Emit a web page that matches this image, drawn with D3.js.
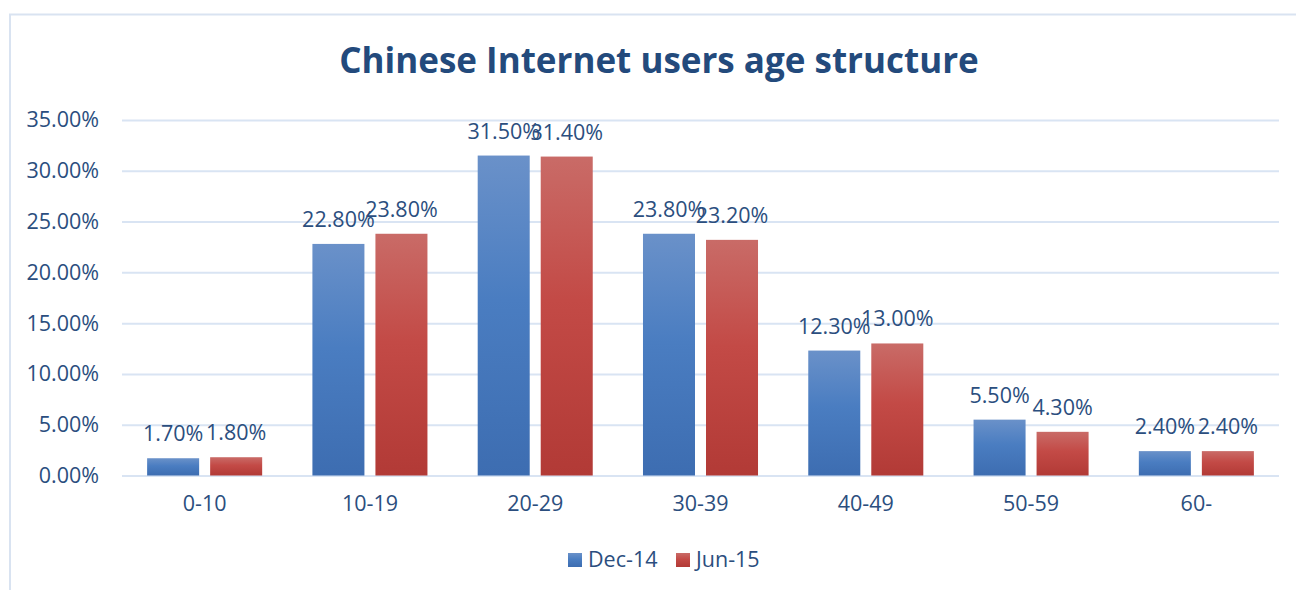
<!DOCTYPE html>
<html>
<head>
<meta charset="utf-8">
<script src="https://cdn.jsdelivr.net/npm/d3@7"></script>
<style>
  html, body { margin: 0; padding: 0; background: #fff; }
  svg { display: block; font-family: "Open Sans", "Liberation Sans", sans-serif; }
</style>
</head>
<body>
<svg id="chart" width="1296" height="590"></svg>
<script>
// Age groups and shares of Chinese internet users
const categories = ["0-10", "10-19", "20-29", "30-39", "40-49", "50-59", "60-"];
const seriesNames = ["Dec-14", "Jun-15"];
const dec14 = [0.017, 0.228, 0.315, 0.238, 0.123, 0.055, 0.024];
const jun15 = [0.018, 0.238, 0.314, 0.232, 0.130, 0.043, 0.024];
const yTicks = [0, 0.05, 0.10, 0.15, 0.20, 0.25, 0.30, 0.35];
const titleText = "Chinese Internet users age structure";

const seriesValues = [dec14, jun15];
const textColor = "#2B4E7E";
const labelSize = 21.5;

const svg = d3.select("#chart");
const defs = svg.append("defs");

// Vertical gradients for each series
const gradients = [
  { id: "gBlue", stops: ["#6A91C9", "#4A7DC1", "#3D6DB1"] },
  { id: "gRed",  stops: ["#C96B67", "#C34A46", "#B23A36"] }
];
gradients.forEach(g => {
  const lg = defs.append("linearGradient").attr("id", g.id)
    .attr("x1", 0).attr("y1", 0).attr("x2", 0).attr("y2", 1);
  lg.append("stop").attr("offset", "0%").attr("stop-color", g.stops[0]);
  lg.append("stop").attr("offset", "45%").attr("stop-color", g.stops[1]);
  lg.append("stop").attr("offset", "100%").attr("stop-color", g.stops[2]);
});

// Chart frame (continues past the right and bottom edges)
svg.append("rect")
  .attr("x", 10).attr("y", 14.5)
  .attr("width", 1400).attr("height", 700)
  .attr("fill", "none").attr("stroke", "#D9E3F1").attr("stroke-width", 2);

// Title
svg.append("text")
  .attr("x", 659).attr("y", 73)
  .attr("text-anchor", "middle")
  .attr("font-size", 35).attr("font-weight", 700)
  .attr("fill", "#234A7C")
  .text(titleText);

const left = 122, right = 1279;
const x0 = d3.scaleBand().domain(categories).range([left, right])
  .paddingInner(0.304).paddingOuter(0.152);
const x1 = d3.scaleBand().domain(seriesNames).range([0, x0.bandwidth()])
  .paddingInner(0.1746).paddingOuter(0);
const y = d3.scaleLinear().domain([0, 0.35]).range([475.5, 120]);

// Gridlines and tick labels via the axis generator
const yAxis = d3.axisLeft(y).tickValues(yTicks).tickFormat(d3.format(".2%"))
  .tickSize(-(right - left)).tickPadding(23);
const gy = svg.append("g").attr("transform", `translate(${left},0)`).call(yAxis);
gy.select(".domain").remove();
gy.selectAll(".tick line").attr("stroke", "#D9E4F3").attr("stroke-width", 2);
gy.selectAll(".tick text").attr("fill", textColor).attr("font-size", labelSize)
  .attr("font-family", "'Open Sans', sans-serif");

// Category axis labels
const xAxis = d3.axisBottom(x0).tickSize(0).tickPadding(20);
const gx = svg.append("g").attr("transform", `translate(0,476)`).call(xAxis);
gx.select(".domain").remove();
gx.selectAll(".tick text").attr("fill", textColor).attr("font-size", labelSize)
  .attr("font-family", "'Open Sans', sans-serif");

// Bars and value labels
const fmt = d3.format(".2%");
seriesNames.forEach((s, si) => {
  const data = categories.map((c, i) => ({ c, v: seriesValues[si][i] }));
  const g = svg.append("g");
  g.selectAll("rect").data(data).join("rect")
    .attr("x", d => x0(d.c) + x1(s))
    .attr("y", d => y(d.v))
    .attr("width", x1.bandwidth())
    .attr("height", d => y(0) - y(d.v))
    .attr("fill", `url(#${gradients[si].id})`);
  g.selectAll("text").data(data).join("text")
    .attr("x", d => x0(d.c) + x1(s) + x1.bandwidth() / 2)
    .attr("y", d => y(d.v) - 17)
    .attr("text-anchor", "middle")
    .attr("font-size", labelSize)
    .attr("fill", textColor)
    .text(d => fmt(d.v));
});

// Legend
const legendItems = [
  { name: seriesNames[0], fill: "url(#gBlue)", x: 568 },
  { name: seriesNames[1], fill: "url(#gRed)", x: 676 }
];
const lg = svg.append("g");
legendItems.forEach(it => {
  lg.append("rect").attr("x", it.x).attr("y", 553).attr("width", 14).attr("height", 14)
    .attr("fill", it.fill);
  lg.append("text").attr("x", it.x + 20).attr("y", 567)
    .attr("font-size", labelSize).attr("fill", textColor).text(it.name);
});
</script>
</body>
</html>
